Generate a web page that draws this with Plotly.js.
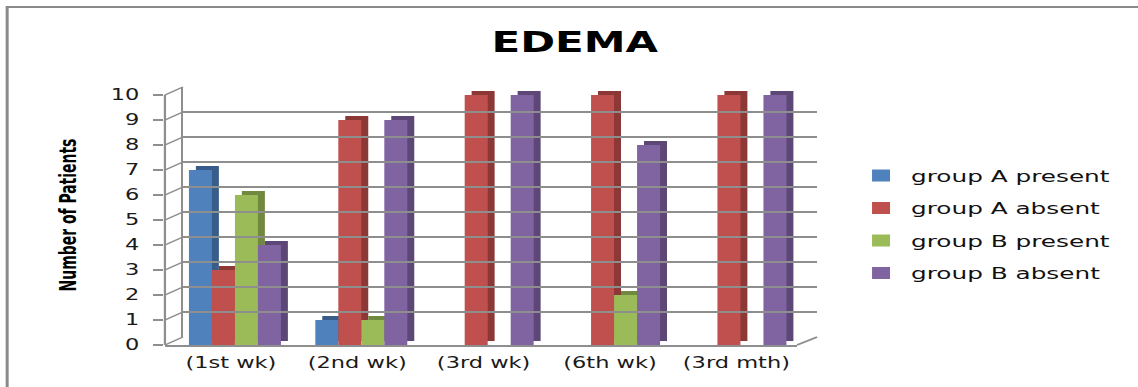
<!DOCTYPE html>
<html>
<head>
<meta charset="utf-8">
<script src="https://cdn.plot.ly/plotly-3.0.1.min.js"></script>
<style>
  html, body { margin: 0; padding: 0; background: #ffffff; overflow: hidden; }
  #chart { width: 759px; height: 387px; transform: scaleX(1.49934); transform-origin: 0 0; }
</style>
</head>
<body>
<div id="chart"></div>
<script>
// ---- data ----
const categories = ["(1st wk)", "(2nd wk)", "(3rd wk)", "(6th wk)", "(3rd mth)"];
const seriesNames = ["group A present", "group A absent", "group B present", "group B absent"];
const groupAPresent = [7, 1, 0, 0, 0];
const groupAAbsent  = [3, 9, 10, 10, 10];
const groupBPresent = [6, 1, 0, 2, 0];
const groupBAbsent  = [4, 9, 10, 8, 10];
const yTicks = [0, 1, 2, 3, 4, 5, 6, 7, 8, 9, 10];

// ---- styling ----
const frontColors = ["#4F81BD", "#C0504D", "#9BBB59", "#8064A2"];
const sideColors  = ["#385D8A", "#8C3836", "#71893F", "#5C4776"];
const seriesValues = [groupAPresent, groupAAbsent, groupBPresent, groupBAbsent];

const barW = 0.182;
const firstOffset = -0.332;
const sideDx = 0.055;
const sideDy = 0.16;

const traces = [];
// 3D side/top faces (drawn first, behind the fronts)
seriesValues.forEach((vals, k) => {
  traces.push({
    type: "bar", x: categories, y: vals, base: sideDy,
    width: barW, offset: firstOffset + barW * k + sideDx,
    marker: { color: sideColors[k], line: { width: 0 } },
    showlegend: false, legendgroup: "g" + k, hoverinfo: "skip",
    xaxis: "x", yaxis: "y"
  });
});
// front faces
seriesValues.forEach((vals, k) => {
  traces.push({
    type: "bar", name: seriesNames[k], x: categories, y: vals,
    width: barW, offset: firstOffset + barW * k,
    marker: { color: frontColors[k], line: { width: 0 } },
    legendgroup: "g" + k, xaxis: "x", yaxis: "y"
  });
});
// invisible trace to carry the back-wall grid axes
traces.push({
  type: "scatter", x: categories, y: groupAAbsent, mode: "markers",
  marker: { opacity: 0 }, showlegend: false, hoverinfo: "skip",
  xaxis: "x2", yaxis: "y2"
});

const gridColor = "#8e8e8e";
const paperH = 261;          // plot-area height in px
const pxPerUnit = 25;        // vertical px per patient
const wallDy = 8;            // back wall lifted by 8 px
const xMainEnd = 0.9692;
const x2Start = 0.0276;
const yMainTopVal = 10.4;
const yMainTop = yMainTopVal * pxPerUnit / paperH;
const y2Start = wallDy / paperH;
const y2End = (wallDy + 10 * pxPerUnit) / paperH;

const shapes = [];
// connectors from the front axis ticks to the back wall
yTicks.forEach(v => {
  shapes.push({
    type: "line", xref: "paper", yref: "paper",
    x0: 0, y0: v * pxPerUnit / paperH, x1: x2Start, y1: (wallDy + v * pxPerUnit) / paperH,
    line: { color: gridColor, width: 1.5 }
  });
});
// floor right edge
shapes.push({
  type: "line", xref: "paper", yref: "paper",
  x0: xMainEnd, y0: 0, x1: 1, y1: y2Start,
  line: { color: gridColor, width: 1.5 }
});
// outer frame
shapes.push({
  type: "rect", xref: "paper", yref: "paper",
  x0: -0.2419, y0: -0.2, x1: 1.5, y1: (345 - 7) / paperH,
  line: { color: "#8a8a8a", width: 2 }, fillcolor: "rgba(0,0,0,0)", layer: "below"
});
// front y-axis line spanning 0..10
shapes.push({
  type: "line", xref: "paper", yref: "paper",
  x0: 0, y0: 0, x1: 0, y1: 10 * pxPerUnit / paperH,
  line: { color: gridColor, width: 1.5 }
});

const tickFont = { family: "DejaVu Sans, Verdana, sans-serif", size: 15, color: "#1a1a1a" };

const layout = {
  width: 759, height: 387,
  margin: { l: 110, r: 213.7, t: 387 - 42 - paperH, b: 42 },
  paper_bgcolor: "#ffffff", plot_bgcolor: "rgba(0,0,0,0)",
  barmode: "overlay",
  showlegend: true,
  title: {
    text: "EDEMA",
    font: { family: "DejaVu Sans, sans-serif", size: 28, weight: "bold", color: "#000000" },
    x: 0.505, xref: "container", xanchor: "center",
    y: 0.891, yref: "container", yanchor: "middle"
  },
  xaxis: {
    domain: [0, xMainEnd], type: "category", range: [-0.522, 4.48],
    showgrid: false, zeroline: false, showline: true, linecolor: gridColor, linewidth: 1.5,
    ticks: "", tickfont: tickFont, ticklabelstandoff: 4, fixedrange: true
  },
  yaxis: {
    domain: [0, yMainTop], range: [0, yMainTopVal],
    tickvals: yTicks, ticktext: yTicks.map(String),
    showgrid: false, zeroline: false, showline: false,
    ticks: "outside", ticklen: 7, tickcolor: gridColor, tickwidth: 1.5,
    tickfont: tickFont, ticklabelstandoff: 6,
    title: {
      text: "Number of Patients",
      font: { family: "Liberation Sans Narrow, DejaVu Sans Condensed, Arial Narrow, sans-serif", size: 15.5, weight: "bold", color: "#000000" },
      standoff: 18
    },
    fixedrange: true
  },
  xaxis2: {
    domain: [x2Start, 1], anchor: "y2", type: "category", range: [-0.522, 4.48],
    showgrid: false, zeroline: false, showline: false, showticklabels: false, ticks: "", fixedrange: true
  },
  yaxis2: {
    domain: [y2Start, y2End], anchor: "x2", range: [0, 10],
    tickvals: yTicks, showgrid: true, gridcolor: gridColor, gridwidth: 1.5,
    zeroline: false, showline: true, linecolor: gridColor, linewidth: 1.5,
    showticklabels: false, ticks: "", fixedrange: true
  },
  legend: {
    x: 1.052, xanchor: "left", y: 0.715, yanchor: "top",
    font: { family: "DejaVu Sans, Verdana, sans-serif", size: 16.5, color: "#111111" },
    traceorder: "grouped", tracegroupgap: 8,
    bgcolor: "rgba(0,0,0,0)", itemclick: false, itemdoubleclick: false
  },
  shapes: shapes
};

Plotly.newPlot("chart", traces, layout, { staticPlot: true, displayModeBar: false, responsive: false });
</script>
</body>
</html>
